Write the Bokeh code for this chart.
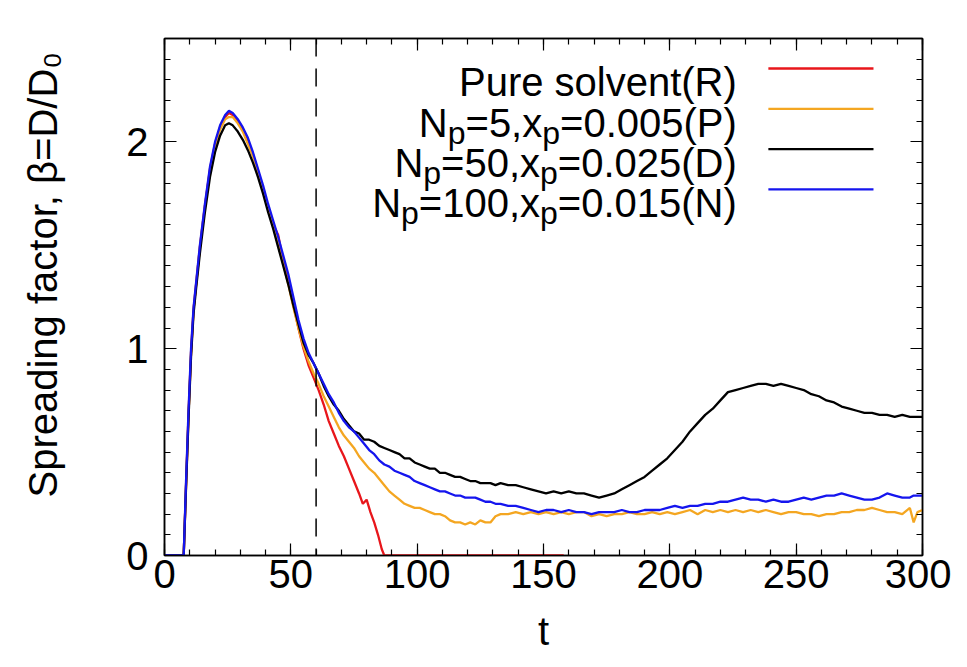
from bokeh.plotting import figure
from bokeh.models import Range1d, FixedTicker, LinearAxis, Span, Label, Title
from bokeh.embed import file_html
from bokeh.resources import INLINE

# ---------------- data ----------------
t_rise = [0, 7, 7.6, 8.5, 9.5, 10.5, 11.5, 12.5, 14, 16, 18, 20, 22, 24, 25.5, 27, 29, 31, 33, 35,
          37, 39, 41, 43, 45, 47, 49, 51, 53, 55, 57, 59]

t_red_tail = [61, 63, 65, 67, 69, 71, 73, 75, 77, 78.5, 80, 81.5, 83, 84.5, 86, 87, 158]

t_tail = [61, 63, 65, 67, 69, 71, 73, 75, 77, 79, 81, 83, 85, 87, 89, 91, 93, 95, 97, 99, 101, 103,
          105, 107, 109, 111, 113, 115, 117, 119, 121, 123, 125, 127, 129, 131, 133,
          136, 139, 142, 145, 148, 151, 154, 157, 160, 163,
          166, 169, 172, 175, 178, 181, 184, 187, 190, 193,
          196, 199, 202, 205, 208, 211, 214, 217, 220, 223,
          226, 229, 232, 235, 238, 241, 244, 247, 250, 253,
          256, 259, 262, 265, 268, 271, 274, 277, 280, 283,
          286, 289, 292, 295, 296.5, 298, 300]

R_rise = [0, 0, 0, 0.33, 0.68, 0.98, 1.19, 1.31, 1.49, 1.69, 1.87, 1.99, 2.07, 2.12, 2.14, 2.13,
          2.10, 2.06, 2.00, 1.94, 1.86, 1.77, 1.68, 1.60, 1.55, 1.42, 1.32, 1.21, 1.10, 1.00, 0.92, 0.86]
R_tail = [0.80, 0.73, 0.65, 0.59, 0.53, 0.48, 0.42, 0.36, 0.30, 0.25, 0.27, 0.21, 0.16, 0.10, 0.03, 0, 0]

P_rise = [0, 0, 0, 0.33, 0.68, 0.98, 1.19, 1.31, 1.49, 1.69, 1.86, 1.98, 2.06, 2.11, 2.12, 2.12,
          2.09, 2.05, 1.99, 1.93, 1.86, 1.77, 1.68, 1.59, 1.50, 1.41, 1.31, 1.20, 1.10, 1.01, 0.94, 0.88]
P_tail = [0.83, 0.77, 0.72, 0.67, 0.62, 0.58, 0.55, 0.52, 0.48, 0.45, 0.42, 0.40, 0.37, 0.34, 0.31,
          0.29, 0.27, 0.25, 0.24, 0.23, 0.23, 0.22, 0.21, 0.20, 0.20, 0.19, 0.17, 0.16, 0.16, 0.15,
          0.16, 0.15, 0.17, 0.16, 0.16, 0.19, 0.20,
          0.20, 0.21, 0.20, 0.21, 0.20, 0.21, 0.20, 0.21, 0.20, 0.21,
          0.21, 0.19, 0.20, 0.19, 0.20, 0.20, 0.21, 0.20, 0.20, 0.21,
          0.20, 0.21, 0.20, 0.21, 0.22, 0.20, 0.22, 0.21, 0.22, 0.21,
          0.22, 0.21, 0.22, 0.21, 0.22, 0.21, 0.20, 0.21, 0.21, 0.20,
          0.20, 0.19, 0.20, 0.20, 0.21, 0.21, 0.22, 0.22, 0.23, 0.22,
          0.21, 0.21, 0.20, 0.23, 0.16, 0.21, 0.22]

D_rise = [0, 0, 0, 0.32, 0.66, 0.96, 1.17, 1.29, 1.46, 1.66, 1.83, 1.95, 2.03, 2.08, 2.09, 2.08,
          2.05, 2.01, 1.96, 1.90, 1.83, 1.75, 1.66, 1.58, 1.49, 1.40, 1.31, 1.21, 1.12, 1.03, 0.97, 0.93]
D_tail = [0.88, 0.82, 0.77, 0.73, 0.70, 0.66, 0.63, 0.60, 0.59, 0.56, 0.56, 0.55, 0.53, 0.52, 0.51,
          0.50, 0.49, 0.47, 0.47, 0.45, 0.44, 0.43, 0.42, 0.42, 0.40, 0.40, 0.39, 0.38, 0.38, 0.37,
          0.36, 0.36, 0.35, 0.35, 0.35, 0.34, 0.35,
          0.34, 0.34, 0.33, 0.32, 0.31, 0.30, 0.31, 0.30, 0.31, 0.30,
          0.30, 0.29, 0.28, 0.29, 0.30, 0.32, 0.34, 0.36, 0.38, 0.41,
          0.44, 0.47, 0.51, 0.55, 0.60, 0.64, 0.68, 0.71, 0.75, 0.79,
          0.80, 0.81, 0.82, 0.83, 0.83, 0.82, 0.83, 0.82, 0.81, 0.80,
          0.78, 0.77, 0.75, 0.74, 0.72, 0.71, 0.70, 0.69, 0.69, 0.68,
          0.68, 0.67, 0.68, 0.67, 0.67, 0.67, 0.67]

N_rise = [0, 0, 0, 0.35, 0.70, 1.00, 1.20, 1.32, 1.50, 1.70, 1.88, 2.00, 2.08, 2.13, 2.15, 2.14,
          2.11, 2.07, 2.02, 1.95, 1.87, 1.79, 1.70, 1.62, 1.54, 1.45, 1.36, 1.25, 1.14, 1.05, 0.98, 0.93]
N_tail = [0.88, 0.83, 0.78, 0.74, 0.69, 0.65, 0.62, 0.60, 0.57, 0.54, 0.51, 0.49, 0.46, 0.44, 0.43,
          0.41, 0.40, 0.39, 0.38, 0.36, 0.35, 0.34, 0.33, 0.32, 0.31, 0.31, 0.30, 0.29, 0.29, 0.28,
          0.28, 0.28, 0.27, 0.26, 0.26, 0.25, 0.25,
          0.24, 0.24, 0.23, 0.22, 0.21, 0.22, 0.22, 0.21, 0.22, 0.21,
          0.21, 0.20, 0.21, 0.21, 0.21, 0.22, 0.21, 0.21, 0.22, 0.22,
          0.22, 0.23, 0.24, 0.23, 0.24, 0.24, 0.25, 0.25, 0.26, 0.26,
          0.27, 0.28, 0.27, 0.27, 0.26, 0.27, 0.26, 0.26, 0.27, 0.28,
          0.27, 0.28, 0.29, 0.29, 0.30, 0.29, 0.28, 0.27, 0.27, 0.28,
          0.30, 0.29, 0.28, 0.28, 0.29, 0.29, 0.29]

t_marker = 60  # dashed vertical line

x_ticks = [0, 50, 100, 150, 200, 250, 300]
y_ticks = [0, 1, 2]

legend_R = [("Pure solvent(R)", False)]
legend_P = [("N", False), ("p", True), ("=5,x", False), ("p", True), ("=0.005(P)", False)]
legend_D = [("N", False), ("p", True), ("=50,x", False), ("p", True), ("=0.025(D)", False)]
legend_N = [("N", False), ("p", True), ("=100,x", False), ("p", True), ("=0.015(N)", False)]
ylabel = "Spreading factor, β=D/D₀"
xlabel = "t"

# ---------------- styling ----------------
FONT = "Liberation Sans"
FS = 40
SS = 32
SUB_DROP = 10
LW = 2.3
COL_R = "#e8161b"
COL_P = "#f4a621"
COL_D = "#000000"
COL_N = "#1515ee"

W = {' ': 278, '(': 333, ')': 333, ',': 278, '.': 278, '/': 278, '=': 584,
     'D': 722, 'N': 722, 'P': 667, 'R': 722, 'S': 667,
     'a': 556, 'c': 500, 'd': 556, 'e': 556, 'f': 278, 'g': 556, 'i': 222, 'l': 222,
     'n': 556, 'o': 556, 'p': 556, 'r': 333, 's': 500, 't': 278, 'u': 556, 'v': 500,
     'x': 500}
for d in "0123456789":
    W[d] = 556


def tw(s, size):
    return sum(W.get(c, 556) for c in s) / 1000.0 * size


X0, X1, Y0, Y1 = 0, 300, 0, 2.5
FRAME_W, FRAME_H = 758, 517
PXY = FRAME_H / (Y1 - Y0)

p = figure(width=951, height=667, output_backend="svg", toolbar_location=None,
           x_range=Range1d(X0, X1), y_range=Range1d(Y0, Y1),
           min_border_left=164, min_border_right=29, min_border_top=38, min_border_bottom=112)
p.xgrid.visible = False
p.ygrid.visible = False
p.outline_line_color = "black"
p.outline_line_width = 1.5
p.background_fill_color = "white"
p.border_fill_color = "white"

xt = FixedTicker(ticks=x_ticks, minor_ticks=[v for v in range(0, 301, 10)])
yt = FixedTicker(ticks=y_ticks, minor_ticks=[i / 10 for i in range(0, 26)])


def style_axis(ax, labels=True):
    ax.axis_line_color = "black"
    ax.axis_line_width = 1.5
    ax.major_tick_in = 12
    ax.major_tick_out = 0
    ax.minor_tick_in = 6
    ax.minor_tick_out = 0
    ax.major_tick_line_width = 1.2
    ax.minor_tick_line_width = 1.2
    ax.major_tick_line_color = "black"
    ax.minor_tick_line_color = "black"
    ax.major_label_text_font = FONT
    if labels:
        ax.major_label_text_font_size = f"{FS}px"
        ax.major_label_text_color = "black"
    else:
        ax.major_label_text_font_size = "1px"
        ax.major_label_text_color = None
        ax.major_label_standoff = 0


p.xaxis.ticker = xt
p.yaxis.ticker = yt
style_axis(p.xaxis[0])
style_axis(p.yaxis[0])
p.xaxis.major_label_standoff = 4
p.yaxis.major_label_standoff = 16

p.xaxis.axis_label = xlabel
p.xaxis.axis_label_text_font = FONT
p.xaxis.axis_label_text_font_size = f"{FS}px"
p.xaxis.axis_label_text_font_style = "normal"
p.xaxis.axis_label_text_color = "black"
p.xaxis.axis_label_standoff = 18

top_ax = LinearAxis(ticker=xt)
right_ax = LinearAxis(ticker=yt)
style_axis(top_ax, labels=False)
style_axis(right_ax, labels=False)
p.add_layout(top_ax, "above")
p.add_layout(right_ax, "right")

# invisible spacer panel between the y axis and its title
spacer = LinearAxis(ticker=FixedTicker(ticks=[1.0], minor_ticks=[]))
spacer.axis_line_color = None
spacer.major_tick_line_color = None
spacer.minor_tick_line_color = None
spacer.major_tick_in = 0
spacer.major_tick_out = 41
spacer.minor_tick_out = 0
spacer.major_label_text_color = None
spacer.major_label_text_font_size = "1px"
spacer.major_label_standoff = 0
p.add_layout(spacer, "left")

# y label as a vertical title on the left side
ytitle = Title(text=ylabel, align="left", offset=58, standoff=36,
               text_font=FONT, text_font_size=f"{FS}px", text_font_style="normal",
               text_color="black")
p.add_layout(ytitle, "left")

# curves
p.line(t_rise + t_red_tail, R_rise + R_tail, line_color=COL_R, line_width=LW)
p.line(t_rise + t_tail, P_rise + P_tail, line_color=COL_P, line_width=LW)
p.line(t_rise + t_tail, D_rise + D_tail, line_color=COL_D, line_width=LW)
p.line(t_rise + t_tail, N_rise + N_tail, line_color=COL_N, line_width=LW)

p.add_layout(Span(location=t_marker, dimension="height", line_color="black",
                  line_width=1.5, line_dash="18 12"))


def add_rich(parts, x_right, y_center):
    total = sum(tw(s, SS if sub else FS) for s, sub in parts)
    cur = -total
    base = y_center - 14 / PXY
    for s, sub in parts:
        size = SS if sub else FS
        y = base - (SUB_DROP / PXY if sub else 0)
        p.add_layout(Label(x=x_right, y=y, x_offset=cur, text=s, text_font=FONT,
                           text_font_size=f"{size}px", text_color="black",
                           text_align="left", text_baseline="alphabetic"))
        cur += tw(s, size)


# legend
LEG_TEXT_RIGHT = 226.5
LEG_LINE_X0, LEG_LINE_X1 = 239.0, 280.6
LEG_TOP = 2.355
LEG_STEP = 0.195
entries = [(legend_R, COL_R), (legend_P, COL_P), (legend_D, COL_D), (legend_N, COL_N)]
for i, (parts, col) in enumerate(entries):
    yc = LEG_TOP - i * LEG_STEP
    add_rich(parts, LEG_TEXT_RIGHT, yc)
    p.segment(x0=[LEG_LINE_X0], y0=[yc], x1=[LEG_LINE_X1], y1=[yc], line_color=col, line_width=LW)

open("out.html", "w").write(file_html(p, INLINE))
